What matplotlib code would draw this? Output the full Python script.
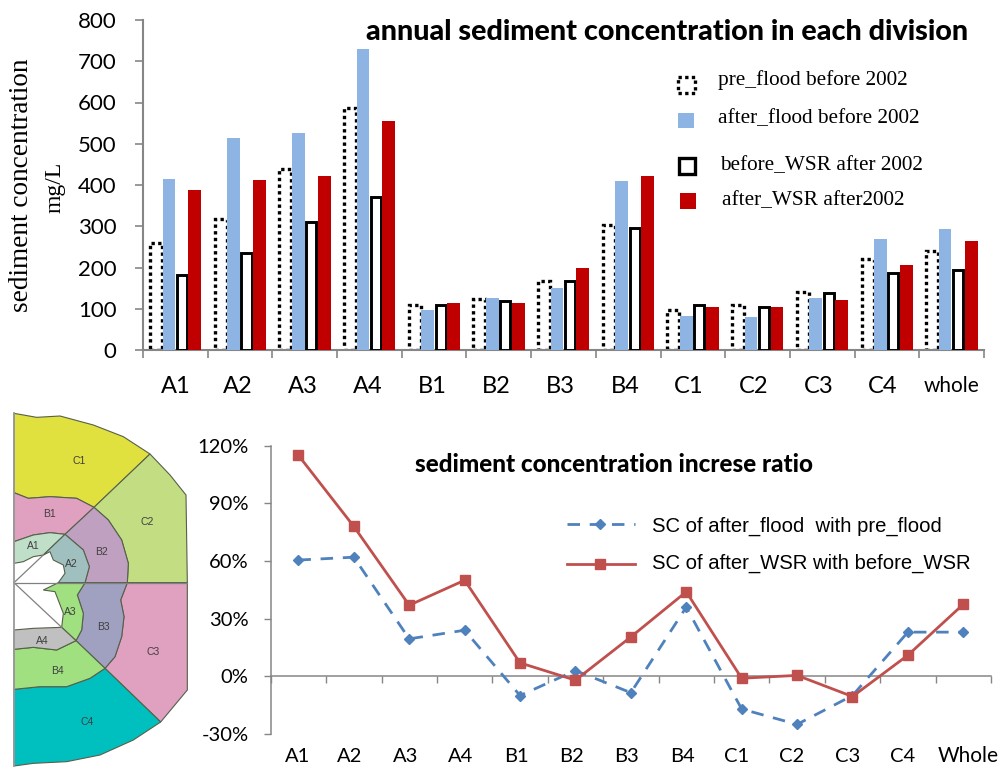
import matplotlib
matplotlib.use("Agg")
import matplotlib.pyplot as plt
from matplotlib.patches import Polygon, Rectangle
import numpy as np

# ---------- data ----------
top_categories = ["A1","A2","A3","A4","B1","B2","B3","B4","C1","C2","C3","C4","whole"]
bottom_categories = ["A1","A2","A3","A4","B1","B2","B3","B4","C1","C2","C3","C4","Whole"]
pre_flood = [260,318,440,587,110,124,167,303,97,108,140,220,240]
after_flood = [415,515,525,730,98,125,150,410,82,80,127,270,293]
before_wsr = [183,235,310,372,110,118,168,295,108,105,137,187,195]
after_wsr = [387,412,421,554,115,115,200,421,105,105,121,206,265]
ratio_flood = [60.5,62,19.5,24,-10,3,-8.5,36,-17,-25,-10,23,23]
ratio_wsr = [115,78,37,50,7,-2,20.5,44,-1,0.5,-10.5,11,37.5]
top_yticks = [0,100,200,300,400,500,600,700,800]
bottom_yticks = [-30,0,30,60,90,120]

map_regions = {
 "C1": ("#E0E03E", [(42,40),(110,52),(180,48),(280,75),(370,110),(450,162),(282,322),(230,295),(150,290),(85,295),(42,278)]),
 "C2": ("#C3DE82", [(450,162),(510,225),(558,285),(562,548),(382,548),(385,490),(365,420),(325,360),(282,322)]),
 "C3": ("#E0A0C0", [(382,548),(562,548),(562,870),(482,966),(315,805),(345,770),(365,710),(372,650),(362,600)]),
 "C4": ("#00BFBF", [(315,805),(482,966),(400,1020),(300,1065),(200,1085),(100,1090),(42,1098),(42,868),(120,860),(200,860),(270,835)]),
 "B1": ("#E0A0C0", [(42,278),(85,295),(150,290),(230,295),(282,322),(195,403),(150,398),(100,405),(42,425)]),
 "B2": ("#BFA0C0", [(282,322),(325,360),(365,420),(385,490),(382,548),(255,548),(268,500),(250,450),(215,420),(195,403)]),
 "B3": ("#A0A0C0", [(382,548),(255,548),(232,585),(250,640),(245,690),(228,722),(315,805),(345,770),(365,710),(372,650),(362,600)]),
 "B4": ("#A0E080", [(42,748),(100,742),(170,750),(228,722),(315,805),(270,835),(200,860),(120,860),(42,868)]),
 "A1": ("#C0DFC8", [(42,425),(100,405),(150,398),(195,403),(130,465),(100,470),(70,485),(42,490)]),
 "A2": ("#A0C0C0", [(195,403),(215,420),(250,450),(268,500),(255,548),(175,548),(195,520),(190,495),(160,480),(150,455),(130,465)]),
 "A3": ("#A0E080", [(255,548),(232,585),(250,640),(245,690),(228,722),(185,682),(190,640),(165,575),(130,570),(175,548)]),
 "A4": ("#C0C0C0", [(42,690),(100,685),(185,682),(228,722),(170,750),(100,742),(42,748)]),
}
map_labels = {"C1":(238,183),"C2":(443,365),"C3":(458,755),"C4":(260,965),"B1":(148,343),"B2":(305,455),
              "B3":(310,680),"B4":(173,813),"A1":(100,437),"A2":(214,493),"A3":(210,635),"A4":(128,722)}

# ---------- figure ----------
W, H = 1000, 769
fig = plt.figure(figsize=(W/100, H/100), dpi=100, facecolor="white")
def axes_px(l, t, r, b, **kw):
    return fig.add_axes([l/W, 1-b/H, (r-l)/W, (b-t)/H], **kw)

SANS = "Lato"
SERIF = "Liberation Serif"
GRAY = "#868686"

# ---------- top bars ----------
ax = axes_px(143, 20, 984, 350)
x = np.arange(len(top_categories))
ax.bar(x-0.3, pre_flood, 0.185, facecolor="white", edgecolor="black", linewidth=2.4, linestyle=(0,(1,1)), zorder=2)
ax.bar(x-0.1, after_flood, 0.195, color="#8DB4E2", zorder=3)
ax.bar(x+0.1, before_wsr, 0.155, facecolor="white", edgecolor="black", linewidth=2.1, zorder=4)
ax.bar(x+0.3, after_wsr, 0.2, color="#C00000", zorder=5)
ax.set_xlim(-0.5, 12.5)
ax.set_ylim(0, 800)
ax.set_yticks(top_yticks)
ax.set_xticks(np.arange(-0.5, 13, 1))
ax.set_xticklabels([])
ax.tick_params(axis="both", color=GRAY, width=1.2, length=6, direction="out")
ax.tick_params(axis="y", labelsize=16, pad=13)
for s in ("top", "right"):
    ax.spines[s].set_visible(False)
for s in ("left", "bottom"):
    ax.spines[s].set_color(GRAY)
    ax.spines[s].set_linewidth(1.5)
for t in ax.get_yticklabels():
    t.set_fontfamily(SANS)
top_off = [0,-2,-2,-2,-2,-3,-3,-3,-4,-4,-4,-4,0]
for i, c in enumerate(top_categories):
    ax.annotate(c, (i, 0), xytext=(top_off[i]*0.72, -26), textcoords="offset points",
                ha="center", va="center", family=SANS, fontsize=17 if c != "whole" else 15,
                annotation_clip=False)

# ---------- bottom lines ----------
ax2 = axes_px(270.7, 445.7, 991, 734)
x2 = np.arange(len(bottom_categories))
ax2.plot(x2, ratio_flood, color="#4F81BD", lw=2, linestyle=(0,(4.5,3.5)), marker="D", ms=5, zorder=3, clip_on=False)
ax2.plot(x2, ratio_wsr, color="#C0504D", lw=2, marker="s", ms=6.5, zorder=4, clip_on=False)
ax2.set_xlim(-0.5, 12.5)
ax2.set_ylim(-30, 120)
ax2.set_yticks(bottom_yticks)
ax2.set_yticklabels([f"{v}%" for v in bottom_yticks])
ax2.set_xticks(np.arange(-0.5, 13, 1))
ax2.set_xticklabels([])
ax2.tick_params(axis="both", color=GRAY, width=1, length=5, direction="out")
ax2.tick_params(axis="y", labelsize=14.5, pad=11)
for s in ("top", "right"):
    ax2.spines[s].set_visible(False)
ax2.spines["bottom"].set_position(("data", 0))
for s in ("left", "bottom"):
    ax2.spines[s].set_color(GRAY)
    ax2.spines[s].set_linewidth(1.1)
for t in ax2.get_yticklabels():
    t.set_fontfamily(SANS)
bot_off = [-1,-4,-4,-4,-4,-4,-4,-4,-5,-5,-5,-5,5]
for i, c in enumerate(bottom_categories):
    ax2.annotate(c, (i, -30), xytext=(bot_off[i]*0.72, -16), textcoords="offset points",
                 ha="center", va="center", family=SANS, fontsize=14.5 if c != "Whole" else 15,
                 annotation_clip=False)

# ---------- pixel overlay: titles, legends, map ----------
ov = fig.add_axes([0, 0, 1, 1], facecolor="none")
ov.set_xlim(0, W)
ov.set_ylim(H, 0)
ov.axis("off")

ov.text(667, 32, "annual sediment concentration in each division", ha="center", va="center",
        family=SANS, weight="black", fontsize=20.7)
ov.text(614, 464, "sediment concentration increse ratio", ha="center", va="center",
        family=SANS, weight="black", fontsize=17.4)
ov.text(22, 185, "sediment concentration", rotation=90, ha="center", va="center", family=SERIF, fontsize=19.6)
ov.text(55, 187, "mg/L", rotation=90, ha="center", va="center", family=SERIF, fontsize=17)

# top legend
ov.add_patch(Rectangle((678, 77), 17, 16, fc="white", ec="black", lw=2.4, ls=(0,(1,1))))
ov.add_patch(Rectangle((678, 113), 16, 15, fc="#8DB4E2", ec="none"))
ov.add_patch(Rectangle((679, 158), 16, 16, fc="white", ec="black", lw=2.4))
ov.add_patch(Rectangle((680, 193), 16, 16, fc="#C00000", ec="none"))
for tx, ty, s in [(718, 80, "pre_flood before 2002"), (718, 119, "after_flood before 2002"),
                  (720, 166, "before_WSR after 2002"), (722, 201, "after_WSR after2002")]:
    ov.text(tx, ty, s, ha="left", va="center", family=SERIF, fontsize=15.3)

# bottom legend
ov.plot([567, 635], [524, 524], color="#4F81BD", lw=2, ls=(0,(4.5,3.5)))
ov.plot([600], [524], color="#4F81BD", marker="D", ms=5)
ov.plot([567, 635], [564, 564], color="#C0504D", lw=2)
ov.plot([600], [564], color="#C0504D", marker="s", ms=6.5)
ov.text(652, 526, "SC of after_flood  with pre_flood", ha="left", va="center", family="Liberation Sans", fontsize=14.6)
ov.text(652, 563, "SC of after_WSR with before_WSR", ha="left", va="center", family="Liberation Sans", fontsize=14.6)

# map
def mp(pts):
    return [(px/3, 400+py/3) for px, py in pts]
for name, (col, pts) in map_regions.items():
    ov.add_patch(Polygon(mp(pts), closed=True, fc=col, ec="#56604A", lw=0.8))
    lx, ly = mp([map_labels[name]])[0]
    ov.text(lx, ly, name, ha="center", va="center", family="Liberation Sans", fontsize=7.5, color="#404040")
for seg in ([(42,548),(562,548)], [(42,548),(185,682)], [(42,548),(130,465)]):
    xs, ys = zip(*mp(seg))
    ov.plot(xs, ys, color="#808080", lw=0.9)
xs, ys = zip(*mp([(42,40),(42,1098)]))
ov.plot(xs, ys, color="#9A9A9A", lw=1.3)

fig.savefig("out.png", dpi=100, facecolor="white")
